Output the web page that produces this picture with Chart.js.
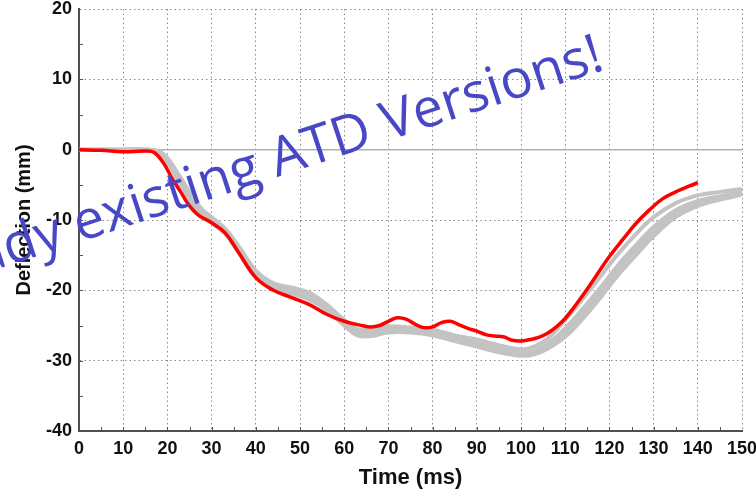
<!DOCTYPE html>
<html>
<head>
<meta charset="utf-8">
<script src="https://cdn.jsdelivr.net/npm/chart.js@4/dist/chart.umd.min.js"></script>
<style>
  body { margin: 0; background: #fff; overflow: hidden; }
  canvas { display: block; }
</style>
</head>
<body>
<canvas id="myChart" width="756" height="496"></canvas>
<script>
// new ATD version (red)
const redTime = [0, 5, 10, 15, 17, 19, 21, 23, 25, 27, 30, 33, 36, 40, 44, 48, 52, 56, 60, 64, 66, 68, 70, 72, 74, 76, 78, 80, 82, 84, 86, 88, 90, 92, 94, 96, 98, 100, 102, 104, 106, 108, 110, 112, 115, 118, 120, 123, 126, 129, 132, 135, 138, 140];
const redDefl = [0, -0.1, -0.3, -0.2, -0.4, -1.8, -4.0, -6.0, -8.0, -9.3, -10.4, -11.8, -14.5, -18.2, -20.0, -21.0, -22.0, -23.4, -24.4, -25.0, -25.2, -25.0, -24.4, -23.9, -24.1, -24.8, -25.3, -25.2, -24.6, -24.4, -24.9, -25.4, -25.8, -26.3, -26.5, -26.6, -27.1, -27.2, -27.0, -26.7, -26.1, -25.2, -24.0, -22.4, -19.8, -17.0, -15.2, -12.8, -10.5, -8.6, -7.0, -6.0, -5.2, -4.7];

// existing ATD versions (grey)
const greyTime = [0, 5, 10, 15, 18, 20, 22, 24, 26, 28, 30, 33, 36, 40, 44, 48, 52, 56, 60, 63, 66, 70, 75, 80, 85, 90, 95, 100, 103, 106, 110, 114, 118, 122, 126, 130, 135, 140, 145, 150];
const grey1 = [0, 0, 0, 0, -0.2, -1.2, -3.0, -5.0, -7.0, -8.6, -9.6, -11.2, -13.6, -17.2, -19.0, -19.6, -20.3, -22.0, -24.2, -25.5, -25.5, -25.1, -25.3, -25.6, -26.4, -27.0, -27.8, -28.4, -28.0, -26.9, -24.2, -21.2, -18.0, -14.8, -12.0, -9.6, -7.6, -6.5, -6.0, -5.6];
const grey2 = [0, 0, 0, 0, -0.3, -1.5, -3.5, -5.5, -7.5, -9.0, -10.0, -11.5, -14.0, -17.6, -19.4, -20.0, -20.8, -22.4, -24.6, -25.9, -26.0, -25.5, -25.6, -26.0, -26.8, -27.5, -28.3, -28.9, -28.6, -27.6, -25.4, -22.6, -19.6, -16.4, -13.6, -11.0, -8.6, -7.3, -6.6, -6.0];
const grey3 = [0, 0, 0, 0, -0.4, -1.8, -3.9, -6.0, -8.0, -9.4, -10.4, -11.9, -14.5, -18.0, -19.8, -20.4, -21.3, -22.8, -25.0, -26.4, -26.5, -26.0, -26.0, -26.4, -27.2, -28.0, -28.8, -29.3, -29.1, -28.3, -26.6, -24.0, -21.0, -17.8, -15.0, -12.3, -9.6, -8.0, -7.1, -6.4];
const grey4 = [0, 0, 0, 0, -0.3, -1.4, -3.3, -5.3, -7.7, -9.2, -10.1, -11.6, -14.2, -17.9, -19.3, -19.8, -20.6, -22.6, -24.8, -26.1, -26.2, -25.6, -25.8, -26.2, -27.0, -27.7, -28.5, -29.0, -28.8, -27.9, -25.9, -23.3, -20.2, -17.0, -14.2, -11.6, -9.0, -7.6, -6.8, -6.2];

const xTicks = [0, 10, 20, 30, 40, 50, 60, 70, 80, 90, 100, 110, 120, 130, 140, 150];
const yTicks = [-40, -30, -20, -10, 0, 10, 20];
const watermark = "Already existing ATD Versions!";

function toPoints(xs, ys){
    return xs.map((x, i) => ({x: x, y: ys[i]}));
}

function greySet(ys){
    return {
        data: toPoints(greyTime, ys),
        borderColor: '#c3c3c3',
        borderWidth: 4,
        pointRadius: 0,
        tension: 0.4,
        order: 2
    };
}

// zero line, small inner ticks, watermark
const extras = {
    id: 'extras',
    beforeDatasetsDraw(chart){
        const c = chart.ctx, a = chart.chartArea;
        const xs = chart.scales.x, ys = chart.scales.y;
        c.save();
        c.strokeStyle = '#b0b0b0';
        c.lineWidth = 1.5;
        c.beginPath();
        c.moveTo(a.left, ys.getPixelForValue(0));
        c.lineTo(a.right, ys.getPixelForValue(0));
        c.stroke();

        c.strokeStyle = '#555';
        c.lineWidth = 1;
        for(let v = 5; v < 150; v += 5){
            const px = Math.round(xs.getPixelForValue(v)) + 0.5;
            c.beginPath();
            c.moveTo(px, a.bottom);
            c.lineTo(px, a.bottom - 4);
            c.stroke();
        }
        for(let v = -35; v < 20; v += 5){
            const py = Math.round(ys.getPixelForValue(v)) + 0.5;
            c.beginPath();
            c.moveTo(a.left, py);
            c.lineTo(a.left + 4, py);
            c.stroke();
        }
        c.restore();
    },
    afterDraw(chart){
        const c = chart.ctx;
        c.save();
        c.translate(606, 69);
        c.rotate(-18.2 * Math.PI / 180);
        c.font = '54px "Open Sans"';
        c.fillStyle = '#4848c6';
        c.textAlign = 'right';
        c.textBaseline = 'alphabetic';
        c.fillText(watermark, 0, 0);
        c.restore();
    }
};

const ctx = document.getElementById('myChart').getContext('2d');
let myChart = new Chart(ctx, {
    type: 'scatter',
    data: {
        datasets: [
            {
                data: toPoints(redTime, redDefl),
                borderColor: '#ff0000',
                borderWidth: 3.5,
                pointRadius: 0,
                tension: 0.4,
                order: 1
            },
            greySet(grey1),
            greySet(grey2),
            greySet(grey3),
            greySet(grey4)
        ].map(d => Object.assign({showLine: true}, d))
    },
    options: {
        responsive: false,
        animation: false,
        layout: { padding: { top: 9, right: 14, left: 0, bottom: 0 } },
        plugins: { legend: { display: false }, tooltip: { enabled: false } },
        scales: {
            x: {
                type: 'linear',
                min: 0,
                max: 150,
                afterBuildTicks: s => { s.ticks = xTicks.map(v => ({value: v})); },
                afterFit: s => { s.height = 65; s.paddingRight = 0; },
                ticks: {
                    color: '#111',
                    padding: 7,
                    font: { family: '"Liberation Sans", Arial', size: 18, weight: 'bold' }
                },
                grid: {
                    color: '#8a8a8a',
                    lineWidth: 1,
                    drawTicks: false
                },
                border: { color: '#505050', width: 2, dash: [1.5, 3] },
                title: {
                    display: true,
                    text: 'Time (ms)',
                    color: '#111',
                    padding: { top: 0, bottom: 5 },
                    font: { family: '"Liberation Sans", Arial', size: 22, weight: 'bold' }
                }
            },
            y: {
                min: -40,
                max: 20,
                afterBuildTicks: s => { s.ticks = yTicks.map(v => ({value: v})); },
                afterFit: s => { s.width = 79; s.paddingTop = 0; s.paddingBottom = 0; },
                ticks: {
                    color: '#111',
                    padding: 7,
                    font: { family: '"Liberation Sans", Arial', size: 18, weight: 'bold' }
                },
                grid: {
                    color: c => (c.tick && c.tick.value === 0) ? 'rgba(0,0,0,0)' : '#8a8a8a',
                    lineWidth: 1,
                    drawTicks: false
                },
                border: { color: '#505050', width: 2, dash: [1.5, 3] },
                title: {
                    display: true,
                    text: 'Deflection (mm)',
                    color: '#111',
                    padding: { top: 12, bottom: 0 },
                    font: { family: '"Liberation Sans", Arial', size: 20, weight: 'bold' }
                }
            }
        }
    },
    plugins: [extras]
});
</script>
</body>
</html>
